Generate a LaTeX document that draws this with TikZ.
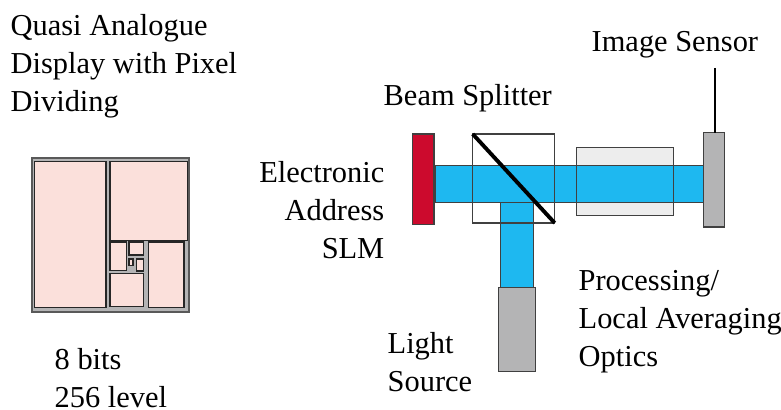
\documentclass[tikz,border=0pt]{standalone}
\usepackage{fontspec}
\setmainfont{Liberation Serif}
\definecolor{beamblue}{HTML}{1EB8F0}
\definecolor{slmred}{HTML}{CC0A2D}
\definecolor{partgrey}{HTML}{B4B4B5}
\definecolor{pixelpink}{HTML}{FBE0DB}
\definecolor{opticsgrey}{HTML}{EDEDED}
\begin{document}
\begin{tikzpicture}[x=0.01cm,y=-0.01cm,
	lbl/.style={inner sep=0pt,align=left,font=\fontsize{8.65}{10.7}\selectfont},
	pixel/.style={draw=black!85,fill=pixelpink,line width=0.4pt},
	part/.style={draw=black!75,line width=0.4pt}]
	\useasboundingbox (0,0) rectangle (781,410);
	%\draw [help lines] (0,0) grid (781,410);

	% display
	\node [lbl,anchor=north west] (title) at (10,14) {Quasi Analogue\\Display with Pixel\\Dividing};
	\draw [draw=black!65,fill=partgrey,line width=0.6pt] (32,158) rectangle (189,312);
	\draw [pixel] (34.7,161.7) rectangle (106,307.7);
	\draw [pixel] (110,161.7) rectangle (187.7,240.3);
	\draw [pixel] (110,242) rectangle (126.7,270.7);
	\draw [pixel] (129,242) rectangle (143.3,255);
	\draw [pixel] (129,259) rectangle (133,265.7);
	\draw [pixel] (136.3,259) rectangle (143.3,271);
	\draw [pixel] (110,273.3) rectangle (143.3,306.3);
	\draw [pixel] (148.3,242) rectangle (184,307.7);
	\node [lbl,anchor=north west] (bits) at (54,348) {8 bits\\256 level};

	% optics
	\fill [opticsgrey] (576.7,147.3) rectangle (673.7,215.3);
	\draw [part,fill=beamblue] (435.3,165.7) rectangle (703.3,202.3);
	\draw [part,fill=beamblue] (500.7,202.3) rectangle (533.3,288);
	\draw [part] (576.7,147.3) rectangle (673.7,215.3);
	\draw [part] (472.7,134) rectangle (554.7,223);
	\draw [line width=1.1pt] (472.7,134) -- (554.7,223);
	\draw [part,fill=slmred] (412.3,134) rectangle (434,224.7);
	\draw [part,fill=partgrey] (703.3,132.7) rectangle (724.3,227);
	\draw [part,fill=partgrey] (498.3,287.7) rectangle (535.3,371.7);
	\coordinate (sensortop) at (715,132.7);
	\coordinate (leadend) at (715,68);
	\draw [line width=0.6pt] (leadend) -- (sensortop);

	\node [lbl,anchor=north west] (sensor) at (591,31) {Image Sensor};
	\node [lbl,anchor=north west] (splitter) at (383,84) {Beam Splitter};
	\node [lbl,anchor=north east,align=right] (slm) at (385,161) {Electronic\\Address\\SLM};
	\node [lbl,anchor=north west] (source) at (387,332) {Light\\Source};
	\node [lbl,anchor=north west] (averaging) at (578,270) {Processing/\\Local Averaging\\Optics};
\end{tikzpicture}
\end{document}
